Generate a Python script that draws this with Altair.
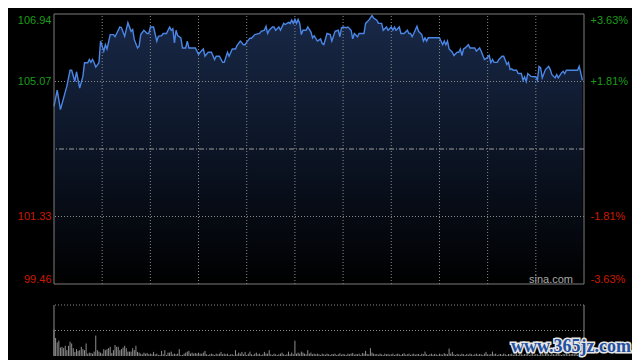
import altair as alt
import pandas as pd

# ---------------- data ----------------
minutes = [
    0, 2, 4, 8, 10, 11, 13, 14, 16, 18,
    19, 21, 22, 23, 24, 25, 26, 28, 29, 31,
    32, 33, 35, 37, 38, 39, 41, 42, 44, 46,
    48, 49, 50, 52, 53, 54, 56, 58, 59, 60,
    62, 64, 65, 67, 68, 70, 72, 73, 74, 75,
    76, 77, 79, 80, 82, 83, 84, 88, 90, 91,
    93, 94, 96, 98, 100, 101, 103, 105, 106, 108,
    109, 111, 113, 114, 116, 118, 119, 120, 122, 123,
    125, 128, 129, 131, 132, 133, 134, 136, 137, 138,
    140, 141, 143, 144, 146, 147, 148, 149, 150, 151,
    152, 153, 154, 155, 157, 158, 160, 161, 162, 164,
    166, 167, 168, 170, 172, 173, 175, 177, 178, 179,
    180, 182, 183, 185, 186, 187, 189, 190, 193, 194,
    196, 197, 198, 199, 201, 202, 204, 205, 207, 208,
    210, 211, 212, 213, 215, 216, 218, 220, 221, 222,
    223, 224, 226, 227, 229, 230, 231, 232, 233, 240,
    242, 243, 244, 245, 246, 248, 249, 251, 252, 253,
    254, 255, 256, 258, 259, 262, 263, 265, 266, 268,
    269, 271, 272, 273, 274, 276, 277, 279, 280, 282,
    283, 284, 285, 286, 288, 289, 291, 292, 293, 294,
    295, 297, 299, 300, 301, 302, 303, 304, 306, 308,
    309, 310, 312, 313, 314, 316, 317, 318, 319, 326,
    327, 328, 329,
]
prices = [
    104.38, 104.83, 104.29, 104.94, 105.38, 105.38, 105.07, 105.34, 104.89, 105.21,
    105.59, 105.59, 105.68, 105.60, 105.68, 105.59, 105.47, 105.59, 106.19, 105.91,
    106.09, 105.97, 106.37, 106.37, 106.31, 106.40, 106.58, 106.56, 106.32, 106.70,
    106.46, 106.51, 106.23, 106.00, 106.05, 106.37, 106.49, 106.40, 106.40, 106.58,
    106.58, 106.19, 106.32, 106.34, 106.40, 106.40, 106.58, 106.49, 106.53, 106.14,
    106.49, 106.34, 106.28, 106.00, 106.00, 106.19, 106.00, 106.00, 105.82, 105.88,
    105.97, 105.77, 105.88, 105.88, 105.68, 105.77, 105.77, 105.60, 105.60, 105.88,
    105.77, 105.97, 105.97, 106.07, 106.19, 106.09, 106.09, 106.16, 106.27, 106.27,
    106.37, 106.40, 106.46, 106.49, 106.60, 106.40, 106.49, 106.58, 106.58, 106.49,
    106.58, 106.49, 106.68, 106.65, 106.71, 106.68, 106.77, 106.68, 106.79, 106.68,
    106.79, 106.68, 106.37, 106.49, 106.49, 106.58, 106.44, 106.28, 106.34, 106.19,
    106.25, 106.12, 106.09, 106.40, 106.37, 106.19, 106.46, 106.49, 106.31, 106.56,
    106.58, 106.56, 106.58, 106.49, 106.25, 106.40, 106.31, 106.40, 106.40, 106.68,
    106.77, 106.83, 106.90, 106.83, 106.77, 106.68, 106.68, 106.49, 106.58, 106.49,
    106.58, 106.49, 106.58, 106.49, 106.58, 106.40, 106.40, 106.49, 106.40, 106.40,
    106.31, 106.40, 106.60, 106.46, 106.37, 106.19, 106.28, 106.19, 106.28, 106.28,
    106.09, 106.19, 106.09, 106.19, 105.97, 105.88, 105.79, 105.88, 105.88, 105.97,
    105.79, 105.97, 106.00, 106.09, 106.00, 106.00, 105.91, 106.00, 105.91, 105.68,
    105.70, 105.79, 105.59, 105.68, 105.60, 105.60, 105.68, 105.77, 105.77, 105.54,
    105.60, 105.40, 105.42, 105.38, 105.38, 105.29, 105.29, 105.10, 105.20, 105.07,
    105.29, 105.21, 105.20, 105.20, 105.10, 105.49, 105.45, 105.17, 105.40, 105.49,
    105.40, 105.26, 105.17, 105.26, 105.17, 105.31, 105.35, 105.29, 105.38, 105.38,
    105.49, 105.31, 105.10,
]
volumes = [
    26, 17.7, 13.3, 15, 8.3, 9, 7.7, 10, 5.7, 10,
    14, 12.3, 7.7, 4, 6.7, 5, 5.7, 9, 6.7, 5.7,
    12.3, 2.3, 3.3, 3, 2.3, 4.3, 20, 5.7, 4.3, 3.3,
    2.3, 6.7, 5.7, 6.7, 7.7, 9, 3, 5.7, 10.7, 9,
    9, 5.7, 6.7, 8.3, 10, 7.7, 4.3, 4.3, 4.3, 7.7,
    5.7, 10, 4, 3.3, 2.3, 1.7, 3.3, 2.3, 3, 1.7,
    2.3, 1.7, 4, 1.7, 2.3, 1, 1, 5, 1.7, 5.7,
    1, 3.3, 3.3, 4.3, 1.7, 2.3, 1.7, 2.3, 6.7, 1,
    1, 2.3, 3.3, 4.3, 5, 2.3, 3.3, 2.3, 3, 2.3,
    3.3, 2.3, 2.3, 3.3, 5, 1.7, 1, 1.7, 2.3, 1.7,
    1, 2.3, 1.7, 2.3, 4, 1.7, 2.3, 1.7, 2.3, 1,
    1.7, 1.7, 1, 5.7, 1.7, 3.3, 2.3, 4, 1.7, 4,
    1, 2.3, 4.3, 1.7, 1, 2.3, 3.3, 1.7, 2.3, 1,
    1.7, 4, 2.3, 2.3, 5.7, 1.7, 1, 2.3, 1.7, 1,
    1.7, 2.3, 3.3, 1.7, 1, 1.7, 4.3, 1.7, 3.3, 1.7,
    15, 2.3, 3.3, 2.3, 4.3, 3.3, 2.3, 1.7, 5.7, 2.3,
    3.3, 1.7, 2.3, 1.7,
    2.3, 1.7, 1, 2.3, 1.7, 1.3, 2.3, 1.7, 1, 2,
    1.7, 2.3, 1, 1.7, 2.7, 1.3, 2, 1.7, 1, 2.3,
    1.7, 2.3, 3, 1.3, 2, 1.7, 2.3, 1, 3, 2.3,
    5, 2, 1.7, 7.7, 3.3, 2.3, 1.7, 2, 1.3, 2.3,
    1.7, 1, 2.3, 1.7, 2, 1.3, 1.7, 2.3, 1, 1.7,
    2.3, 1.7, 1, 2, 2.7, 1.3, 1.7, 2.3, 1, 1.7,
    2.3, 1.3, 1.7, 2, 1, 2.3, 1.7, 4.3, 1.7, 1,
    1.7, 2.3, 1.3, 2, 1.7, 1, 2.3, 1.7, 1.3, 2.7,
    2, 1.7, 7.3, 2.3, 4, 1.7, 1, 2, 1.7, 1.3,
    2.3, 1.7, 1, 2, 1.3, 2.3, 1.7, 1, 1.7, 2.3,
    1.3, 2, 1.7, 1, 2.3, 4, 1.7, 1.3, 2, 4.3,
    1.7, 2.3, 1, 1.7, 2, 1.3, 2.3, 1.7, 1, 2,
    1.7, 2.3, 1.3, 1.7, 2, 1, 2.3, 1.7, 1.3, 2,
    1.7, 2.3, 1, 1.7, 2.3, 1.3, 2, 1.7, 1, 2.3,
    1.7, 1.3, 2, 2.3, 1.7, 1, 2.3, 1.7, 1.3, 2,
    2.3, 1.7, 1, 2, 1.7, 2.3, 1.3, 1.7, 2, 2.3,
    1.7, 2.3, 1.3, 2, 2.3, 3,
]
price_ticks = [99.46, 101.33, 105.07, 106.94]
inner_price_ticks = [101.33, 105.07]
prev_close = [103.20]
pct_ticks = [-3.63, -1.81, 1.81, 3.63]
session = [0, 330]
grid_minutes = [30, 60, 90, 120, 150, 180, 210, 240, 270, 300]
price_domain = [99.46, 106.94]
vol_domain = [0, 50]
vol_grid = [25, 50]
source_text = ["sina.com"]
watermark_text = ["www.365jz.com"]

# ---------------- style ----------------
GREEN = "#1b9c1b"
RED = "#cc1a00"
GRID = "#8a8a8a"
BORDER = "#7c7c7c"
LINE = "#4a86e6"
FONT = "Liberation Sans"

W, H = 530, 342
MAIN_H = 270
VOL_TOP, VOL_BOT = 291, 342

xs = alt.Scale(domain=session, nice=False, zero=False)
ps = alt.Scale(domain=price_domain, range=[MAIN_H, 0], nice=False, zero=False)
pcs = alt.Scale(domain=[pct_ticks[0], pct_ticks[-1]], range=[MAIN_H, 0], nice=False, zero=False)
vs = alt.Scale(domain=vol_domain, range=[VOL_BOT, VOL_TOP], nice=False, zero=False)

price_df = pd.DataFrame({"t": minutes, "p": prices, "base": price_domain[0]})
vol_df = pd.DataFrame({"t": list(range(len(volumes))), "v": volumes, "zero": 0})

left_axis = alt.Axis(
    values=price_ticks, format=".2f", orient="left", grid=False, ticks=False,
    domain=False, labelFlush=True, labelPadding=3, labelFont=FONT, labelFontSize=11,
    labelColor={"condition": {"test": "datum.value > 103.2", "value": GREEN}, "value": RED},
    title=None,
)
right_axis = alt.Axis(
    values=pct_ticks, orient="right", grid=False, ticks=False, domain=False,
    labelFlush=True, labelPadding=6, labelFont=FONT, labelFontSize=11,
    labelExpr="(datum.value > 0 ? '+' : '-') + format(abs(datum.value), '.2f') + '%'",
    labelColor={"condition": {"test": "datum.value > 0", "value": GREEN}, "value": RED},
    title=None,
)

X = alt.X("t:Q", scale=xs, axis=None)

gradient = alt.Gradient(
    gradient="linear",
    stops=[alt.GradientStop(color="#182847", offset=0),
           alt.GradientStop(color="#0b1322", offset=0.55),
           alt.GradientStop(color="#000000", offset=1)],
    x1=0, x2=0, y1=0, y2=1,
)

area = alt.Chart(price_df).mark_area(color=gradient).encode(
    x=X, y=alt.Y("p:Q", scale=ps, axis=left_axis), y2="base:Q")

hgrid = alt.Chart(pd.DataFrame({"p": inner_price_ticks})).mark_rule(
    color=GRID, strokeDash=[1, 2], strokeWidth=1).encode(
    y=alt.Y("p:Q", scale=ps, axis=None))

center = alt.Chart(pd.DataFrame({"p": prev_close})).mark_rule(
    color="#9c9c9c", strokeDash=[5, 2, 1, 2], strokeWidth=1).encode(
    y=alt.Y("p:Q", scale=ps, axis=None))

vgrid = alt.Chart(pd.DataFrame({"t": grid_minutes, "lo": price_domain[0], "hi": price_domain[1]})).mark_rule(
    color=GRID, strokeDash=[1, 2], strokeWidth=1).encode(
    x=X, y=alt.Y("lo:Q", scale=ps, axis=None), y2="hi:Q")

line = alt.Chart(price_df).mark_line(color=LINE, strokeWidth=1.4).encode(
    x=X, y=alt.Y("p:Q", scale=ps, axis=None))

border = alt.Chart(pd.DataFrame({"t0": [session[0]], "t1": [session[1]],
                                 "lo": [price_domain[0]], "hi": [price_domain[1]]})).mark_rect(
    fillOpacity=0, stroke=BORDER, strokeWidth=1).encode(
    x=alt.X("t0:Q", scale=xs, axis=None), x2="t1:Q",
    y=alt.Y("lo:Q", scale=ps, axis=None), y2="hi:Q")

vol_bars = alt.Chart(vol_df).mark_rule(color="#8e8e8e", strokeWidth=1).encode(
    x=X, y=alt.Y("v:Q", scale=vs, axis=None), y2="zero:Q")

vol_hgrid = alt.Chart(pd.DataFrame({"v": vol_grid})).mark_rule(
    color=GRID, strokeDash=[1, 2], strokeWidth=1).encode(
    y=alt.Y("v:Q", scale=vs, axis=None))

vol_sides = alt.Chart(pd.DataFrame({"t": session, "lo": vol_domain[0], "hi": vol_domain[1]})).mark_rule(
    color="#8a8a8a", strokeWidth=1).encode(
    x=X, y=alt.Y("lo:Q", scale=vs, axis=None), y2="hi:Q")

pct_layer = alt.Chart(pd.DataFrame({"pct": pct_ticks})).mark_point(opacity=0).encode(
    y=alt.Y("pct:Q", scale=pcs, axis=right_axis))

sina = alt.Chart(pd.DataFrame({"t": [session[1]], "p": [price_domain[0]], "s": source_text})).mark_text(
    align="right", baseline="alphabetic", dx=-11, dy=-1, color="#a8a8a8",
    font=FONT, fontSize=11).encode(
    x=X, y=alt.Y("p:Q", scale=ps, axis=None), text="s:N")

wm_df = pd.DataFrame({"t": [session[1]], "v": [vol_domain[0]], "s": watermark_text})
wm_halo = alt.Chart(wm_df).mark_text(
    align="right", baseline="alphabetic", dx=47, dy=-4, color="#e6e6e6",
    stroke="#e6e6e6", strokeWidth=3, font="Liberation Sans Narrow", fontWeight="bold",
    fontSize=18).encode(
    x=X, y=alt.Y("v:Q", scale=vs, axis=None), text="s:N")
wm = alt.Chart(wm_df).mark_text(
    align="right", baseline="alphabetic", dx=47, dy=-4, color="#1f4f9e",
    font="Liberation Sans Narrow", fontWeight="bold", fontSize=18).encode(
    x=X, y=alt.Y("v:Q", scale=vs, axis=None), text="s:N")

chart = alt.layer(
    area, pct_layer, hgrid, center, vgrid, line, border,
    vol_bars, vol_hgrid, vol_sides, sina, wm_halo, wm,
).resolve_scale(y="independent").properties(
    width=W, height=H,
    autosize=alt.AutoSizeParams(type="none"),
    padding={"left": 46, "top": 6, "right": 48, "bottom": 4},
    background="#000000",
).configure_view(strokeWidth=0)

chart.save("out.html", embed_options={"renderer": "svg", "actions": False})
